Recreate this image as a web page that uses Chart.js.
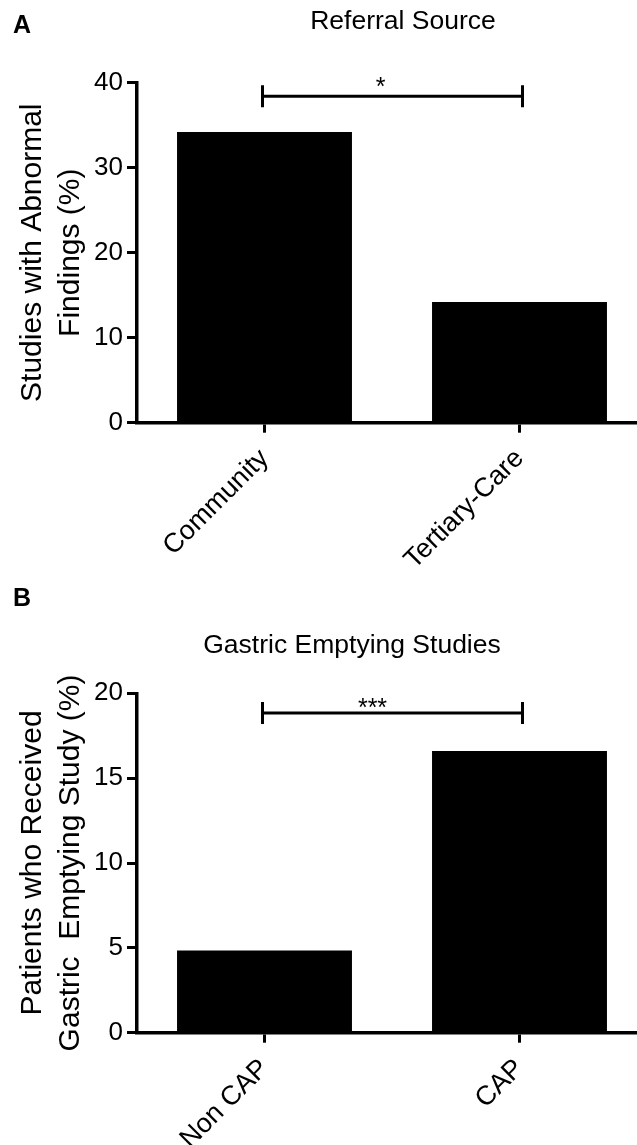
<!DOCTYPE html>
<html>
<head>
<meta charset="utf-8">
<script src="https://cdn.jsdelivr.net/npm/chart.js@4.4.0/dist/chart.umd.min.js"></script>
<style>
  html, body { margin: 0; padding: 0; background: #fff; width: 637px; height: 1145px; overflow: hidden; }
  .wrap { position: absolute; left: 0; width: 660px; }
  .lbl { position: absolute; font-family: "Liberation Sans", Arial, sans-serif; color: #000; white-space: nowrap; line-height: 1; z-index: 2; }
</style>
</head>
<body>
<div class="wrap" style="top:0;height:580px"><canvas id="cA" width="660" height="580"></canvas></div>
<div class="wrap" style="top:580px;height:565px"><canvas id="cB" width="660" height="565"></canvas></div>
<div class="lbl" style="left:13px;top:12px;font-size:25px;font-weight:bold;">A</div>
<div class="lbl" id="tA" style="left:403px;top:7px;font-size:26.5px;transform:translateX(-50%);"></div>
<div class="lbl" style="left:13px;top:585px;font-size:25px;font-weight:bold;">B</div>
<div class="lbl" id="tB" style="left:352px;top:631px;font-size:26.5px;transform:translateX(-50%);"></div>
<script>
// ---- Data ----
const titleA = 'Referral Source';
const categoriesA = ['Community', 'Tertiary-Care'];
const valuesA = [34.2, 14.2];
const yTitleA = ['Studies with Abnormal', 'Findings (%)'];
const yTicksA = [0, 10, 20, 30, 40];
const sigLabelA = '*';
const sigLevelA = 38.4;

const titleB = 'Gastric Emptying Studies';
const categoriesB = ['Non CAP', 'CAP'];
const valuesB = [4.85, 16.6];
const yTitleB = ['Patients who Received', 'Gastric  Emptying Study (%)'];
const yTicksB = [0, 5, 10, 15, 20];
const sigLabelB = '***';
const sigLevelB = 18.84;

document.getElementById('tA').textContent = titleA;
document.getElementById('tB').textContent = titleB;

const FONT = '"Liberation Sans", Arial, sans-serif';

const sigPlugin = {
  id: 'sig',
  afterDatasetsDraw(chart, args, opts) {
    const ctx = chart.ctx;
    const xs = chart.scales.x, ys = chart.scales.y;
    const x1 = xs.getPixelForValue(0) - 2;
    const x2 = xs.getPixelForValue(1) + 3;
    const y = ys.getPixelForValue(opts.level);
    ctx.save();
    ctx.strokeStyle = '#000';
    ctx.lineWidth = 3;
    ctx.beginPath();
    ctx.moveTo(x1, y); ctx.lineTo(x2, y);
    ctx.moveTo(x1, y - 11); ctx.lineTo(x1, y + 11);
    ctx.moveTo(x2, y - 11); ctx.lineTo(x2, y + 11);
    ctx.stroke();
    ctx.fillStyle = '#000';
    ctx.font = '25px ' + FONT;
    ctx.textAlign = 'center';
    ctx.textBaseline = 'alphabetic';
    ctx.fillText(opts.label, (x1 + x2) / 2 + opts.dx, y + opts.dy);
    ctx.restore();
  }
};

function makeChart(id, cats, vals, yTicks, yTitle, padTop, xAxisH, sigLabel, sigLevel, sdx, sdy) {
  return new Chart(document.getElementById(id), {
    type: 'bar',
    data: {
      labels: cats,
      datasets: [{
        data: vals,
        backgroundColor: '#000',
        borderWidth: 0,
        barPercentage: 0.686,
        categoryPercentage: 1
      }]
    },
    options: {
      responsive: false,
      animation: false,
      devicePixelRatio: 1,
      layout: { padding: { top: padTop, right: 13, left: 0, bottom: 0 } },
      plugins: {
        legend: { display: false },
        tooltip: { enabled: false },
        title: { display: false },
        sig: { label: sigLabel, level: sigLevel, dx: sdx, dy: sdy }
      },
      scales: {
        x: {
          offset: true,
          grid: { offset: false, drawOnChartArea: false, drawTicks: true, tickLength: 10, color: '#000', lineWidth: 3 },
          border: { display: true, color: '#000', width: 3.5 },
          ticks: { minRotation: 45, maxRotation: 45, autoSkip: false, padding: 10, color: '#000', font: { family: FONT, size: 27 } },
          afterFit: s => { s.height = xAxisH; }
        },
        y: {
          min: yTicks[0],
          max: yTicks[yTicks.length - 1],
          ticks: { stepSize: yTicks[1] - yTicks[0], padding: 4, color: '#000', font: { family: FONT, size: 26 } },
          grid: { drawOnChartArea: false, drawTicks: true, tickLength: 10, color: '#000', lineWidth: 3 },
          border: { display: true, color: '#000', width: 3.5 },
          title: { display: true, text: yTitle, color: '#000', font: { family: FONT, size: 30, lineHeight: 1.27 }, padding: { top: 14, bottom: 0 } },
          afterFit: s => { s.width = 137; }
        }
      }
    },
    plugins: [sigPlugin]
  });
}

makeChart('cA', categoriesA, valuesA, yTicksA, yTitleA, 82.7, 580 - 422.7, sigLabelA, sigLevelA, -12, -1);
makeChart('cB', categoriesB, valuesB, yTicksB, yTitleB, 113.3, 565 - 452.7, sigLabelB, sigLevelB, -20, 3);
</script>
</body>
</html>
